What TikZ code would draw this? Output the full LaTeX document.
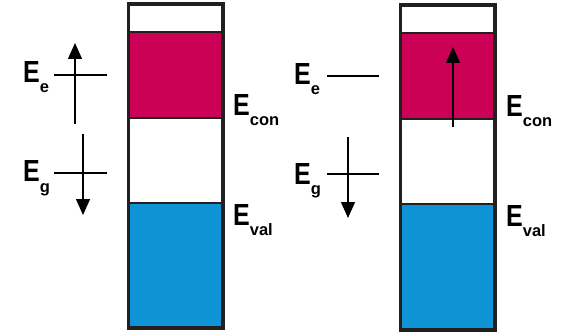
\documentclass[tikz,border=0pt]{standalone}
\usepackage{fontspec}
\usepackage{xcolor}
\usetikzlibrary{arrows.meta}

\newfontfamily\capfont[FakeStretch=0.82]{Liberation Sans}
\newfontfamily\subfont{Liberation Sans}
\newcommand{\lev}[1]{{\capfont\bfseries\fontsize{30.5}{30.5}\selectfont E}\raisebox{-10pt}{\subfont\bfseries\fontsize{16.5}{16.5}\selectfont #1}}

\definecolor{conband}{HTML}{CC0055}
\definecolor{valband}{HTML}{0E94D4}
\definecolor{edge}{HTML}{231F20}

\begin{document}
\begin{tikzpicture}[x=1pt,y=-1pt]
    \tikzset{
        band/.style={rectangle,draw=edge,line width=2pt,minimum width=93pt,inner sep=0pt},
        outline/.style={draw=edge,line width=3pt},
        lbl/.style={anchor=base west,inner sep=0pt},
        tick/.style={line width=1.3pt},
        jump/.style={line width=1.3pt,-{Triangle[width=14pt,length=16pt]}}
    }
    \useasboundingbox (0,0) rectangle (565,334);

    % left column
    \node[band,fill=white,minimum height=27pt]   (topL) at (175.5,18.5) {};
    \node[band,fill=conband,minimum height=86pt] (conL) at (175.5,75) {};
    \node[band,fill=white,minimum height=85pt]   (gapL) at (175.5,160.5) {};
    \node[band,fill=valband,minimum height=124pt] (valL) at (175.5,265) {};
    \draw[outline] (topL.north west) rectangle (valL.south east);

    % right column
    \node[band,fill=white,minimum height=27pt]   (topR) at (447.5,19.5) {};
    \node[band,fill=conband,minimum height=86pt] (conR) at (447.5,76) {};
    \node[band,fill=white,minimum height=85pt]   (gapR) at (447.5,161.5) {};
    \node[band,fill=valband,minimum height=125pt] (valR) at (447.5,266.5) {};
    \draw[outline] (topR.north west) rectangle (valR.south east);

    % labels
    \node[lbl] (econL) at (233,116) {\lev{con}};
    \node[lbl] (evalL) at (233,225) {\lev{val}};
    \node[lbl] (econR) at (506,117) {\lev{con}};
    \node[lbl] (evalR) at (506,226) {\lev{val}};
    \node[lbl] (eeL) at (23,83)  {\lev{e}};
    \node[lbl] (egL) at (23,182) {\lev{g}};
    \node[lbl] (eeR) at (294,85) {\lev{e}};
    \node[lbl] (egR) at (294,184) {\lev{g}};

    % level ticks
    \coordinate (eeL1) at (54,75);   \coordinate (eeL2) at (107,75);
    \coordinate (egL1) at (54,173);  \coordinate (egL2) at (107,173);
    \coordinate (eeR1) at (327,76);  \coordinate (eeR2) at (379,76);
    \coordinate (egR1) at (327,174); \coordinate (egR2) at (379,174);
    \draw[tick] (eeL1) -- (eeL2);
    \draw[tick] (egL1) -- (egL2);
    \draw[tick] (eeR1) -- (eeR2);
    \draw[tick] (egR1) -- (egR2);

    % arrows
    \coordinate (upL0) at (75,124);   \coordinate (upL1) at (75,43);
    \coordinate (dnL0) at (83,134);   \coordinate (dnL1) at (83,215);
    \coordinate (dnR0) at (348,137);  \coordinate (dnR1) at (348,218);
    \coordinate (upR0) at (453,127);  \coordinate (upR1) at (453,47);
    \draw[jump] (upL0) -- (upL1);
    \draw[jump] (dnL0) -- (dnL1);
    \draw[jump] (dnR0) -- (dnR1);
    \draw[jump] (upR0) -- (upR1);
\end{tikzpicture}
\end{document}
